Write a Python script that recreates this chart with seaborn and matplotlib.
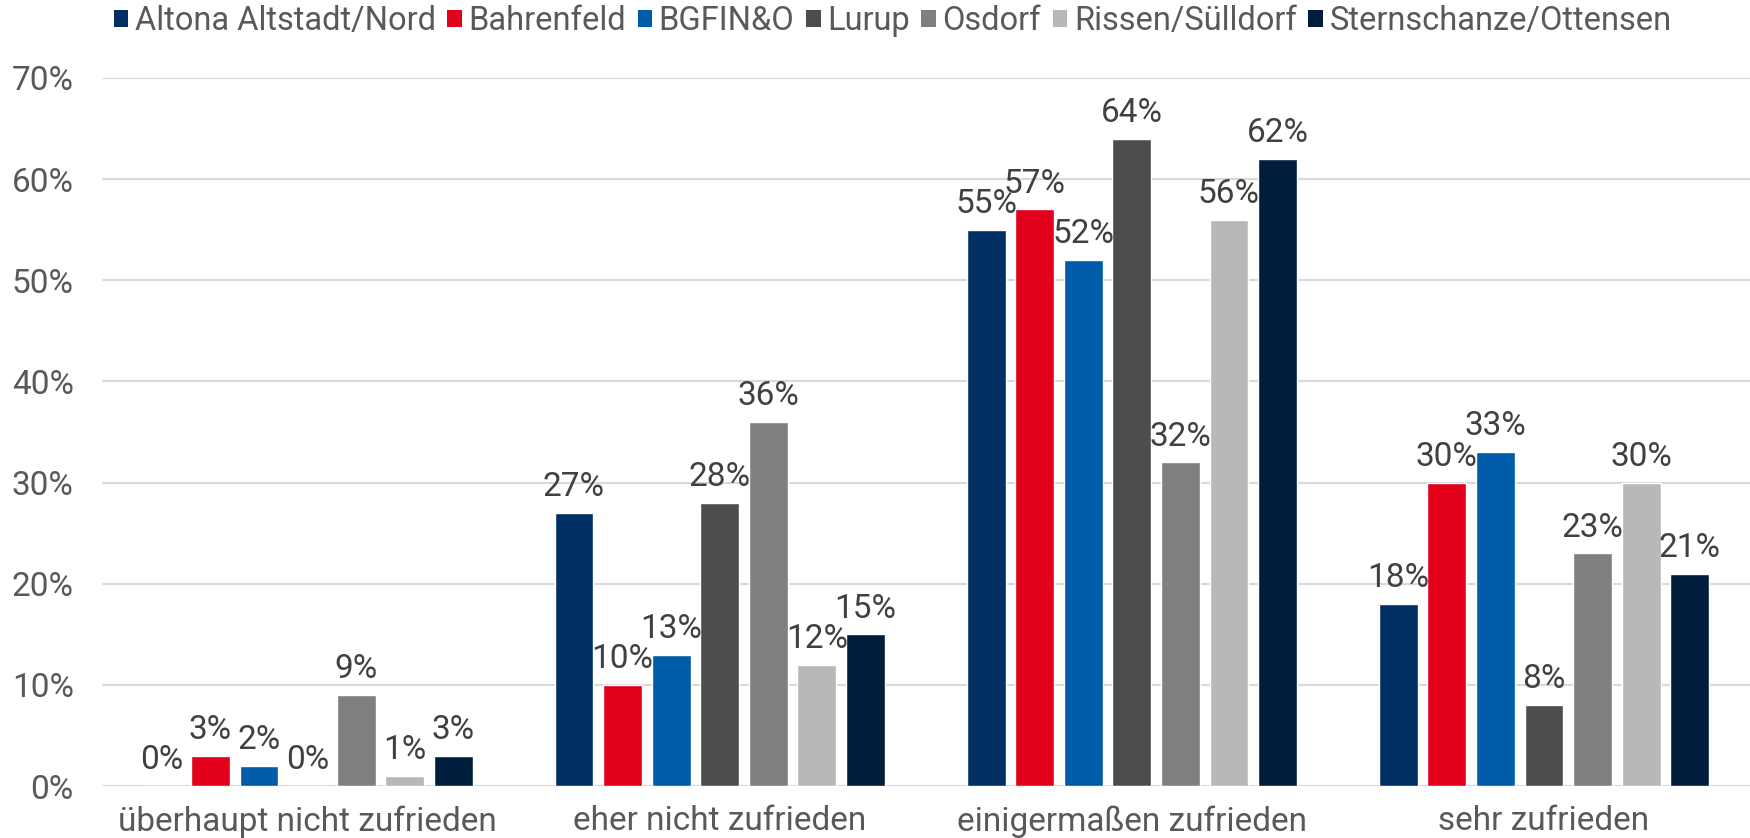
import matplotlib
matplotlib.use("Agg")
import matplotlib.pyplot as plt
import seaborn as sns
import pandas as pd
from matplotlib.patches import Patch

categories = ["überhaupt nicht zufrieden", "eher nicht zufrieden",
              "einigermaßen zufrieden", "sehr zufrieden"]
series = ["Altona Altstadt/Nord", "Bahrenfeld", "BGFIN&O", "Lurup",
          "Osdorf", "Rissen/Sülldorf", "Sternschanze/Ottensen"]
altona = [0, 27, 55, 18]
bahrenfeld = [3, 10, 57, 30]
bgfino = [2, 13, 52, 33]
lurup = [0, 28, 64, 8]
osdorf = [9, 36, 32, 23]
rissen = [1, 12, 56, 30]
sternschanze = [3, 15, 62, 21]
colors = ["#003063", "#E2001A", "#005CA9", "#4D4D4D", "#808080", "#B8B8B8", "#001E3C"]
yticks = [0, 10, 20, 30, 40, 50, 60, 70]

values = [altona, bahrenfeld, bgfino, lurup, osdorf, rissen, sternschanze]
rows = []
for s, vals in zip(series, values):
    for c, v in zip(categories, vals):
        rows.append({"Kategorie": c, "Gebiet": s, "Wert": v})
df = pd.DataFrame(rows)

sns.set_theme(style="white")
plt.rcParams["font.family"] = ["Roboto", "DejaVu Sans"]

FS = 24
fig = plt.figure(figsize=(17.5, 8.38), dpi=100)
ax = fig.add_axes([0.058, 0.062, 0.942, 0.845])

sns.barplot(data=df, x="Kategorie", y="Wert", hue="Gebiet", order=categories,
            hue_order=series, palette=colors, width=0.825, gap=0.2,
            saturation=1, legend=False, ax=ax, errorbar=None)

for cont in ax.containers:
    ax.bar_label(cont, fmt="%d%%", padding=7, fontsize=FS, color="#404040")

ax.set_ylim(0, 70)
ax.set_yticks(yticks)
ax.set_yticklabels([f"{t}%" for t in yticks])
ax.set_xlim(-0.5, 3.5)
ax.set_xlabel("")
ax.set_ylabel("")
for sp in ax.spines.values():
    sp.set_visible(False)
ax.yaxis.grid(True, color="#D9D9D9", linewidth=1.5)
ax.set_axisbelow(True)
ax.tick_params(axis="y", length=0, pad=20, labelsize=FS, labelcolor="#595959")
ax.tick_params(axis="x", length=0, pad=14, labelsize=FS, labelcolor="#595959")

handles = [Patch(facecolor=c, edgecolor="none") for c in colors]
fig.legend(handles, series, loc="center", bbox_to_anchor=(0.51, 0.975), ncol=7,
           frameon=False, fontsize=23.5, labelcolor="#595959",
           handlelength=0.45, handleheight=0.45, handletextpad=0.2,
           columnspacing=0.35, borderaxespad=0)

fig.savefig("out.png", dpi=100)
